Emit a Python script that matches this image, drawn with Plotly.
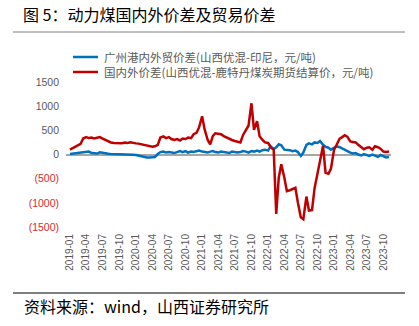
import pandas as pd
import plotly.graph_objects as go

# Semi-monthly observation dates, 2019-01 through 2023-11
dates = pd.date_range("2019-01-01", "2023-11-01", freq="SMS")

# 广州港内外贸价差 (山西优混-印尼, 元/吨)
trade_spread = (
    [10, 15, 20, 25, 30, 35, 40, 60, 30, 25, 20, 45, 30, 20, 15, 10, 10, 10, 5, 10, 10, 5, 0, -5]
    + [-10, -20, -40, -55, -60, -60, -55, -50, 10, 50, 60, 40, 50, 40, 30, 50, 70, 50, 70, 40, 60, 50, 60, 80]
    + [60, 50, 40, 60, 70, 50, 40, 60, 50, 40, 30, 60, 50, 40, 50, 70, 60, 40, 70, 60, 80, 60, 90, 100]
    + [80, 170, 110, 150, 210, 190, 100, 100, 90, 70, 80, 50, -30, 40, 200, 230, 210, 250, 240, 280, 200, 160, 140, 100]
    + [130, 170, 150, 120, 90, 60, 40, 20, 30, 0, -20, 10, -10, -30, 0, -20, -50, -10, -40, -60, -50]
)

# 国内外价差 (山西优混-鹿特丹煤炭期货结算价, 元/吨)
domestic_foreign_spread = (
    [100, 130, 170, 190, 220, 330, 360, 340, 350, 330, 345, 360, 330, 300, 270, 250, 240, 235, 230, 235, 250, 240, 255, 240]
    + [230, 225, 210, 200, 190, 175, 160, 170, 200, 350, 375, 340, 360, 320, 300, 320, 290, 330, 320, 350, 340, 420, 450, 560]
    + [790, 520, 300, 210, 380, 440, 430, 420, 380, 350, 330, 300, 280, 260, 250, 400, 520, 600, 1060, 510, 690, 380, 300, 250]
    + [240, 150, 100, -1230, -480, -200, -480, -760, -740, -720, -690, -1000, -1300, -1340, -870, -1160, -1150, -700, -410, -100, 180, -380, -400, -290]
    + [100, 200, 330, 360, 400, 370, 270, 260, 250, 200, 150, 110, 140, 150, 100, 170, 150, 120, 60, 50, 60]
)

series_names = [
    "广州港内外贸价差(山西优混-印尼，元/吨)",
    "国内外价差(山西优混-鹿特丹煤炭期货结算价，元/吨)",
]
series_colors = ["#0070C0", "#C00000"]

y_tick_vals = [-1500, -1000, -500, 0, 500, 1000, 1500]
y_tick_text = ["(1500)", "(1000)", "(500)", "0", "500", "1000", "1500"]

title_text = "图 5：动力煤国内外价差及贸易价差"
source_text = "资料来源：wind，山西证券研究所"

W, H = 419, 326
L, R, T, B = 66, 28, 82, 99
plot_w = W - L - R
plot_h = H - T - B


def px_x(x):
    return (x - L) / plot_w


def px_y(y):
    return (H - B - y) / plot_h


fig = go.Figure()
for name, vals, color in zip(series_names, [trade_spread, domestic_foreign_spread], series_colors):
    fig.add_trace(go.Scatter(
        x=dates, y=vals, mode="lines", name=name,
        line=dict(color=color, width=2.5), showlegend=False,
    ))

neg_color = "#E0282E"
tick_labels = [
    f'<span style="color:{neg_color}">{t}</span>' if v < 0 else t
    for v, t in zip(y_tick_vals, y_tick_text)
]

fig.update_layout(
    width=W, height=H,
    margin=dict(l=L, r=R, t=T, b=B),
    paper_bgcolor="white", plot_bgcolor="white",
    font=dict(family="Liberation Sans, Noto Sans CJK SC, sans-serif", color="#595959"),
    xaxis=dict(
        type="date",
        range=["2018-12-10", "2023-11-12"],
        tick0="2019-01-01", dtick="M3", tickformat="%Y-%m",
        tickangle=-90, tickfont=dict(size=10, color="#595959"),
        showgrid=False, showline=False, zeroline=False, ticks="",
        ticklabelstandoff=4,
    ),
    yaxis=dict(
        range=[-1500, 1500],
        tickvals=y_tick_vals, ticktext=tick_labels,
        tickfont=dict(size=10.5, color="#595959"),
        showgrid=False, showline=False, ticks="",
        zeroline=True, zerolinecolor="#A6A6A6", zerolinewidth=1.5,
        ticklabelstandoff=6,
    ),
)

# legend drawn as line samples with labels
legend_rows = [57, 72]
for name, color, yrow in zip(series_names, series_colors, legend_rows):
    fig.add_shape(type="line", xref="paper", yref="paper",
                  x0=px_x(73), x1=px_x(98), y0=px_y(yrow), y1=px_y(yrow),
                  line=dict(color=color, width=2.5))
    fig.add_annotation(xref="paper", yref="paper", x=px_x(102), y=px_y(yrow),
                       text=name, showarrow=False, xanchor="left", yanchor="middle",
                       font=dict(size=11.5, color="#595959",
                                 family="Noto Sans CJK SC, sans-serif"))

# header and footer
fig.add_annotation(xref="paper", yref="paper", x=px_x(21), y=px_y(14),
                   text=title_text, showarrow=False, xanchor="left", yanchor="middle",
                   font=dict(size=16, color="#000000", family="Noto Sans CJK SC, sans-serif"))
fig.add_shape(type="line", xref="paper", yref="paper",
              x0=px_x(13), x1=px_x(405), y0=px_y(32), y1=px_y(32),
              line=dict(color="#808080", width=1))
fig.add_shape(type="line", xref="paper", yref="paper",
              x0=px_x(13), x1=px_x(405), y0=px_y(293), y1=px_y(293),
              line=dict(color="#000000", width=1.2))
fig.add_annotation(xref="paper", yref="paper", x=px_x(22), y=px_y(306),
                   text=source_text, showarrow=False, xanchor="left", yanchor="middle",
                   font=dict(size=16, color="#000000", family="Noto Sans CJK SC, sans-serif"))

fig.write_html("out.html")
